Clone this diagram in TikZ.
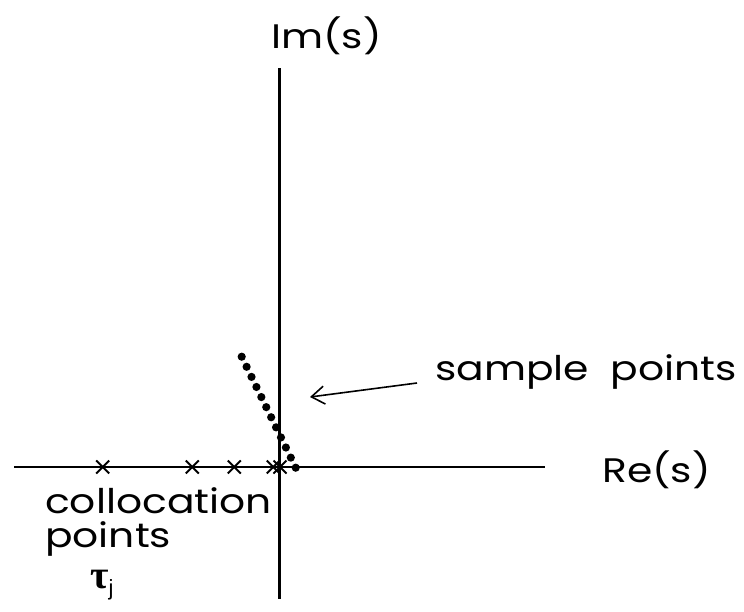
\documentclass[tikz,border=0pt]{standalone}
\usepackage{fontspec}
\setmainfont{Poppins}[FakeStretch=1.2]
\newfontfamily\taufont{Liberation Serif}
\newfontfamily\jfont{Liberation Sans}
\usetikzlibrary{arrows.meta}
\begin{document}
\begin{tikzpicture}[x=1pt,y=-1pt,
  axis/.style={line width=2.2pt},
  cross/.style={line width=2pt},
  sdot/.style={fill=black,draw=none},
  lbl/.style={inner sep=0pt,font=\fontsize{34}{35}\selectfont},
  pointer/.style={line width=1.6pt,-{Straight Barb[length=13pt,width=18pt,line width=1.6pt]}}]
\useasboundingbox (0,0) rectangle (744,611);
% axes
\coordinate (xl) at (14,467);
\coordinate (xr) at (545,467);
\coordinate (yt) at (279.5,68);
\coordinate (yb) at (279.5,599);
\draw[axis] (xl) -- (xr);
\draw[axis] (yt) -- (yb);
% collocation crosses
\foreach \cx in {102.7,192.3,234.3,273.3,280}{
  \draw[cross] (\cx-6.5,460.5) -- (\cx+6.5,473.5) (\cx-6.5,473.5) -- (\cx+6.5,460.5);
}
% sample dots
\foreach \k in {0,...,11}{
  \fill[sdot] ({241.7+\k*4.91},{356.7+\k*10.09}) circle (4.1);
}
% labels
\node[lbl,anchor=base west] (im) at (271,48) {Im(s)};
\node[lbl,anchor=base west] (re) at (602,482) {Re(s)};
\node[lbl,anchor=base west] (sp) at (435,380) {sample\ \ points};
\node[lbl,anchor=base west] (cp1) at (45,513) {collocation};
\node[lbl,anchor=base west] (cp2) at (45,547) {points};
\node[inner sep=0pt,anchor=base west] (tau) at (90,588) {{\taufont\bfseries\fontsize{40}{40}\selectfont τ}{\jfont\fontsize{22}{22}\selectfont\raisebox{-7pt}{j}}};
% arrow
\coordinate (as) at (417,383);
\coordinate (ae) at (310,397);
\draw[pointer] (as) -- (ae);
\end{tikzpicture}
\end{document}
